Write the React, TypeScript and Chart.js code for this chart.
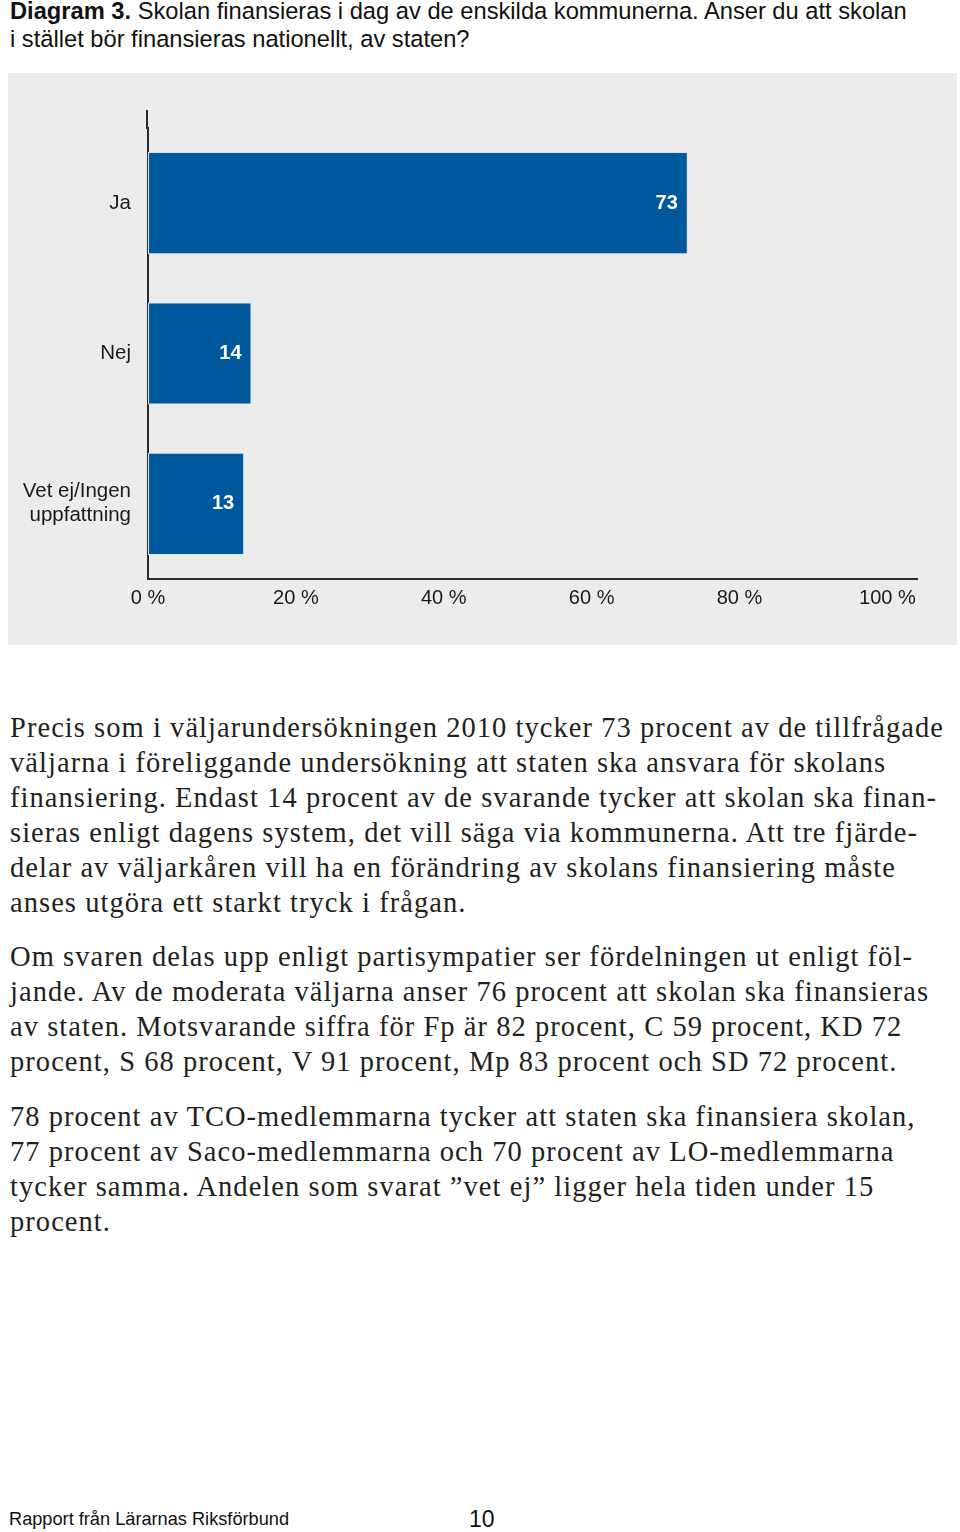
import { useEffect, useRef } from "react";
import { Chart, registerables } from "chart.js";

Chart.register(...registerables);

const categories: (string | string[])[] = ["Ja", "Nej", ["Vet ej/Ingen", "uppfattning"]];
const values = [73, 14, 13];
const xTickValues = [0, 20, 40, 60, 80, 100];
const xTickLabels = ["0 %", "20 %", "40 %", "60 %", "80 %", "100 %"];

const titleBold = "Diagram 3.";
const titleRest = " Skolan finansieras i dag av de enskilda kommunerna. Anser du att skolan";
const titleLine2 = "i stället bör finansieras nationellt, av staten?";

const paragraph1 = [
  "Precis som i väljarundersökningen 2010 tycker 73 procent av de tillfrågade",
  "väljarna i föreliggande undersökning att staten ska ansvara för skolans",
  "finansiering. Endast 14 procent av de svarande tycker att skolan ska finan-",
  "sieras enligt dagens system, det vill säga via kommunerna. Att tre fjärde-",
  "delar av väljarkåren vill ha en förändring av skolans finansiering måste",
  "anses utgöra ett starkt tryck i frågan.",
];
const paragraph2 = [
  "Om svaren delas upp enligt partisympatier ser fördelningen ut enligt föl-",
  "jande. Av de moderata väljarna anser 76 procent att skolan ska finansieras",
  "av staten. Motsvarande siffra för Fp är 82 procent, C 59 procent, KD 72",
  "procent, S 68 procent, V 91 procent, Mp 83 procent och SD 72 procent.",
];
const paragraph3 = [
  "78 procent av TCO-medlemmarna tycker att staten ska finansiera skolan,",
  "77 procent av Saco-medlemmarna och 70 procent av LO-medlemmarna",
  "tycker samma. Andelen som svarat ”vet ej” ligger hela tiden under 15",
  "procent.",
];
const footerLeft = "Rapport från Lärarnas Riksförbund";
const footerPage = "10";

const SANS = "'Liberation Sans', Arial, Helvetica, sans-serif";
const SERIF = "'Liberation Serif', 'Times New Roman', serif";

const PANEL_LEFT = 8;
const PANEL_TOP = 73;
const PANEL_W = 949;
const PANEL_H = 572;

function ChartPanel() {
  const ref = useRef<HTMLCanvasElement | null>(null);
  useEffect(() => {
    if (!ref.current) return;
    const axisExtension = {
      id: "axisExtension",
      afterDraw(chart: any) {
        const { ctx, chartArea } = chart;
        ctx.save();
        ctx.strokeStyle = "#2b2b2b";
        ctx.lineWidth = 2;
        ctx.beginPath();
        ctx.moveTo(chartArea.left - 1, 110 - PANEL_TOP);
        ctx.lineTo(chartArea.left - 1, chartArea.top + 1);
        ctx.stroke();
        ctx.restore();
      },
    };
    const valueLabels = {
      id: "valueLabels",
      afterDatasetsDraw(chart: any) {
        const { ctx } = chart;
        const meta = chart.getDatasetMeta(0);
        ctx.save();
        ctx.fillStyle = "#ffffff";
        ctx.font = `bold 20px ${SANS}`;
        ctx.textAlign = "right";
        ctx.textBaseline = "middle";
        meta.data.forEach((el: any, i: number) => {
          ctx.fillText(String(values[i]), el.x - 10, el.y);
        });
        ctx.restore();
      },
    };
    const chart = new Chart(ref.current, {
      type: "bar",
      data: {
        labels: categories as any,
        datasets: [
          {
            data: values,
            backgroundColor: "#00589c",
            borderColor: "#d9e6ef",
            borderWidth: 1,
            borderSkipped: false,
            categoryPercentage: 1,
            barPercentage: 0.68,
          },
        ],
      },
      options: {
        indexAxis: "y",
        animation: false,
        responsive: false,
        devicePixelRatio: 1,
        layout: { padding: { left: 0, right: 40, top: 55, bottom: 28 } },
        plugins: { legend: { display: false }, tooltip: { enabled: false } },
        scales: {
          x: {
            min: 0,
            max: 104,
            afterBuildTicks: (scale: any) => {
              scale.ticks = xTickValues.map((v) => ({ value: v }));
            },
            grid: { display: false, drawTicks: false },
            border: { display: true, color: "#2b2b2b", width: 2 },
            ticks: {
              padding: 7,
              color: "#1a1a1a",
              font: { family: SANS, size: 20 },
              callback: (v: any) => xTickLabels[xTickValues.indexOf(Number(v))] ?? "",
            },
          },
          y: {
            afterFit: (scale: any) => {
              scale.width = 140;
            },
            grid: { display: false, drawTicks: false },
            border: { display: true, color: "#2b2b2b", width: 2 },
            ticks: {
              padding: 17,
              color: "#1a1a1a",
              font: { family: SANS, size: 20.5, lineHeight: 1.17 },
            },
          },
        },
      },
      plugins: [axisExtension, valueLabels],
    });
    return () => chart.destroy();
  }, []);
  return (
    <div
      style={{
        position: "absolute",
        left: PANEL_LEFT,
        top: PANEL_TOP,
        width: PANEL_W,
        height: PANEL_H,
        background: "#ececec",
      }}
    >
      <canvas ref={ref} width={PANEL_W} height={PANEL_H} style={{ display: "block" }} />
    </div>
  );
}

function Paragraph({ lines, top }: { lines: string[]; top: number }) {
  return (
    <div
      style={{
        position: "absolute",
        left: 10,
        top,
        fontFamily: SERIF,
        fontSize: 28.5,
        letterSpacing: "1.05px",
        lineHeight: "35px",
        color: "#231f20",
        whiteSpace: "nowrap",
      }}
    >
      {lines.map((l, i) => (
        <div key={i}>{l}</div>
      ))}
    </div>
  );
}

export default function App() {
  return (
    <div style={{ position: "absolute", left: 0, top: 0, width: 960, height: 1532, background: "#ffffff" }}>
      <div
        style={{
          position: "absolute",
          left: 10,
          top: -3,
          fontFamily: SANS,
          fontSize: 23.7,
          lineHeight: "28px",
          color: "#111",
          whiteSpace: "nowrap",
        }}
      >
        <div>
          <b>{titleBold}</b>
          {titleRest}
        </div>
        <div>{titleLine2}</div>
      </div>
      <ChartPanel />
      <Paragraph lines={paragraph1} top={710} />
      <Paragraph lines={paragraph2} top={939} />
      <Paragraph lines={paragraph3} top={1099} />
      <div
        style={{
          position: "absolute",
          left: 9,
          top: 1508,
          fontFamily: SANS,
          fontSize: 18.2,
          lineHeight: "22px",
          color: "#111",
          whiteSpace: "nowrap",
        }}
      >
        {footerLeft}
      </div>
      <div
        style={{
          position: "absolute",
          left: 469,
          top: 1505,
          fontFamily: SANS,
          fontSize: 23,
          lineHeight: "28px",
          color: "#111",
          whiteSpace: "nowrap",
        }}
      >
        {footerPage}
      </div>
    </div>
  );
}
